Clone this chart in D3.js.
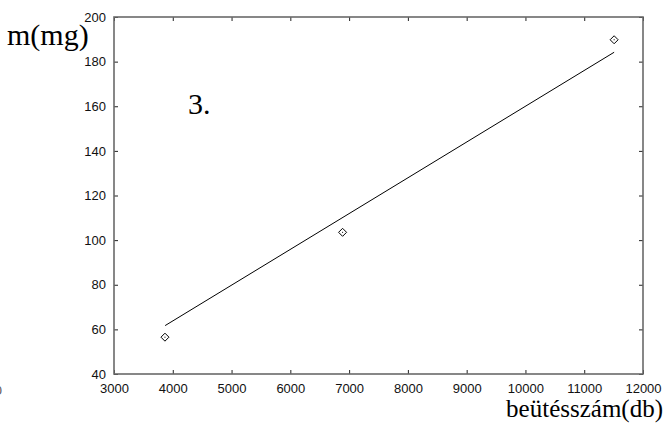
<!DOCTYPE html>
<html>
<head>
<meta charset="utf-8">
<script src="https://cdn.jsdelivr.net/npm/d3@7"></script>
<style>
  body { margin: 0; background: #fff; }
  svg { display: block; }
</style>
</head>
<body>
<svg width="666" height="426"></svg>
<script>
        // data
        var pointsX = [3867, 6889, 11509];
        var pointsY = [56.5, 103.5, 189.8];
        var fitX = [3870, 11509];
        var fitY = [61.7, 184.2];
        var xTicks = [3000, 4000, 5000, 6000, 7000, 8000, 9000, 10000, 11000, 12000];
        var yTicks = [40, 60, 80, 100, 120, 140, 160, 180, 200];

        var svg = d3.select("svg"),
            marginLeft = 114, marginTop = 17,
            width = 643 - marginLeft,
            height = 374 - marginTop;

        var xScale = d3.scaleLinear().domain([3000, 12000]).range([0, width]),
            yScale = d3.scaleLinear().domain([40, 200]).range([height, 0]);

        var g = svg.append("g")
            .attr("transform", "translate(" + marginLeft + "," + marginTop + ")");

        // axes, ticks pointing inwards
        function styleAxis(sel) {
            sel.select(".domain").remove();
            sel.selectAll(".tick line").attr("stroke", "#222");
            sel.selectAll("text")
               .style("font-family", "'Liberation Sans', Helvetica, Arial, sans-serif")
               .style("font-size", "13px")
               .attr("fill", "#111");
        }

        g.append("g")
         .attr("transform", "translate(0," + height + ")")
         .call(d3.axisBottom(xScale).tickValues(xTicks).tickFormat(d3.format("d")).tickSize(-4).tickPadding(10))
         .call(styleAxis);

        g.append("g")
         .call(d3.axisLeft(yScale).tickValues(yTicks).tickFormat(d3.format("d")).tickSize(-4).tickPadding(8))
         .call(styleAxis);

        g.append("g")
         .call(d3.axisTop(xScale).tickValues(xTicks).tickSize(-4).tickFormat(""))
         .call(styleAxis);

        g.append("g")
         .attr("transform", "translate(" + width + ",0)")
         .call(d3.axisRight(yScale).tickValues(yTicks).tickSize(-4).tickFormat(""))
         .call(styleAxis);

        // frame
        g.append("rect")
         .attr("width", width)
         .attr("height", height)
         .attr("fill", "none")
         .attr("stroke", "#6a6a6a")
         .attr("stroke-width", 1.6);

        // fitted line
        var line = d3.line()
            .x(function(d, i) { return xScale(d); })
            .y(function(d, i) { return yScale(fitY[i]); });

        g.append("path")
         .datum(fitX)
         .attr("d", line)
         .attr("fill", "none")
         .attr("stroke", "#000")
         .attr("stroke-width", 1);

        // diamond points
        var pts = g.append("g")
            .selectAll("g")
            .data(pointsX)
            .enter()
            .append("g")
            .attr("transform", function(d, i) { return "translate(" + xScale(d) + "," + yScale(pointsY[i]) + ")"; });

        pts.append("path")
           .attr("d", "M0,-4L4,0L0,4L-4,0Z")
           .attr("fill", "#fff")
           .attr("stroke", "#000")
           .attr("stroke-width", 1);

        pts.append("rect")
           .attr("x", -0.5).attr("y", -0.5)
           .attr("width", 1).attr("height", 1)
           .attr("fill", "#000");

        // labels
        var serif = "'Liberation Serif', 'Times New Roman', Times, serif";

        svg.append("text")
           .attr("x", 7)
           .attr("y", 45)
           .style("font-family", serif)
           .style("font-size", "30px")
           .text("m(mg)");

        svg.append("text")
           .attr("x", 663)
           .attr("y", 417)
           .attr("text-anchor", "end")
           .style("font-family", serif)
           .style("font-size", "25px")
           .text("beütésszám(db)");

        svg.append("text")
           .attr("x", 188)
           .attr("y", 114)
           .style("font-family", serif)
           .style("font-size", "30px")
           .text("3.");

        // cut-off glyph at the left edge
        svg.append("text")
           .attr("x", 2)
           .attr("y", 395)
           .attr("text-anchor", "end")
           .style("font-family", "'Liberation Sans', Helvetica, Arial, sans-serif")
           .style("font-size", "13px")
           .attr("fill", "#555")
           .text("0");
</script>
</body>
</html>
